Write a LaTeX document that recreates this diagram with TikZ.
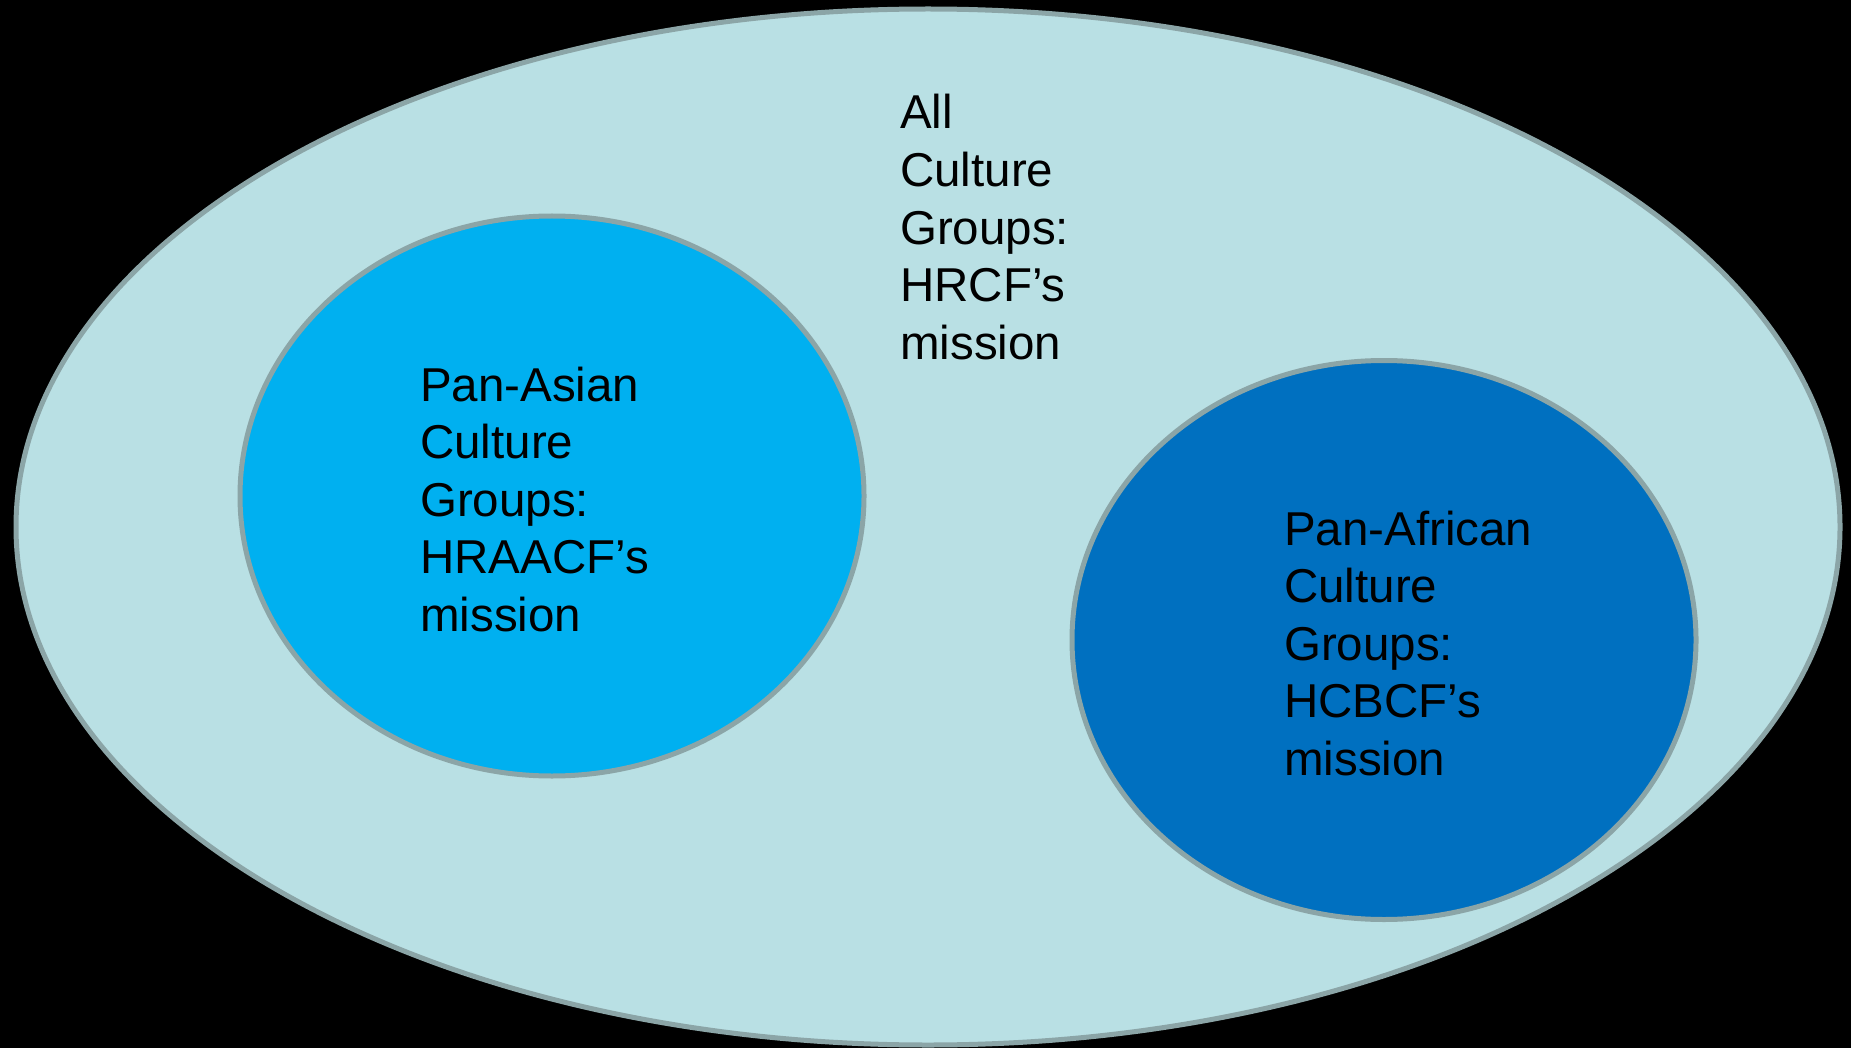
\documentclass[tikz,border=0pt]{standalone}
\usepackage{fontspec}
\setmainfont{Liberation Sans}
\definecolor{outerfill}{HTML}{B9E0E4}
\definecolor{rimcol}{HTML}{8BA5A7}
\definecolor{asiafill}{HTML}{00B0F0}
\definecolor{africafill}{HTML}{0070C0}
\begin{document}
\begin{tikzpicture}[x=1pt,y=-1pt,
  setshape/.style={draw=rimcol, line width=5pt},
  % base anchor of a multi-line node sits on its last line
  setlabel/.style={anchor=base west, inner sep=0pt, align=left,
    font=\fontsize{47.5}{57.5}\selectfont, text=black}]
  % page background
  \fill[black] (0,0) rectangle (1851,1048);
  \useasboundingbox (0,0) rectangle (1851,1048);
  % the three sets
  \draw[setshape, fill=outerfill] (928,527) ellipse [x radius=912, y radius=518];
  \draw[setshape, fill=asiafill] (552,496) ellipse [x radius=312, y radius=280];
  \draw[setshape, fill=africafill] (1384,640) ellipse [x radius=312, y radius=279.5];
  % labels
  \node[setlabel] (all) at (900,359) {All\\Culture\\Groups:\\HRCF’s\\mission};
  \node[setlabel] (asian) at (420,631) {Pan-Asian\\Culture\\Groups:\\HRAACF’s\\mission};
  \node[setlabel] (african) at (1284,775) {Pan-African\\Culture\\Groups:\\HCBCF’s\\mission};
\end{tikzpicture}
\end{document}
